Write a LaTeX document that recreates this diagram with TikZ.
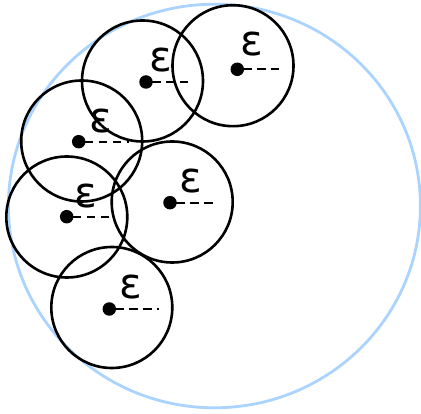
\documentclass[tikz,border=0pt]{standalone}
\usepackage{fontspec}
\newfontfamily\epsfont{DejaVu Sans}
\definecolor{paleblue}{RGB}{170,212,255}
\begin{document}
\begin{tikzpicture}[x=1pt,y=-1pt,
  ball/.style={circle,draw=black,line width=2.6pt,minimum size=121pt,inner sep=0pt},
  centre/.style={circle,fill=black,minimum size=13.5pt,inner sep=0pt},
  rad/.style={draw=black,line width=2.2pt,dash pattern=on 8.5pt off 5.5pt},
  eps/.style={font=\epsfont\fontsize{42}{42}\selectfont,inner sep=0pt}]
\useasboundingbox (0,0) rectangle (421,414);
\draw[paleblue,line width=2.8pt] (214.4,206) ellipse [x radius=206,y radius=201.8];
% circles
\node[ball] (b1) at (142.5,81) {};
\node[ball] (b2) at (233,65.7) {};
\node[ball] (b3) at (81.7,141) {};
\node[ball] (b4) at (66.8,217) {};
\node[ball] (b5) at (172.2,202) {};
\node[ball] (b6) at (111.8,307.5) {};
% centres
\node[centre] (d1) at (146,82) {};
\node[centre] (d2) at (237.3,69.3) {};
\node[centre] (d3) at (78.7,141.7) {};
\node[centre] (d4) at (66.7,216.7) {};
\node[centre] (d5) at (170,202.7) {};
\node[centre] (d6) at (109.3,309) {};
% radius ends
\coordinate (e1) at (188,82);
\coordinate (e2) at (279,69.3);
\coordinate (e3) at (128.5,141.7);
\coordinate (e4) at (112,216.7);
\coordinate (e5) at (217.5,202.7);
\coordinate (e6) at (158.5,309);
\foreach \i in {1,...,6}{\path[rad] (d\i.center) ++(6pt,0) -- (e\i);}
% labels
\node[eps] (l1) at (161,60) {ε};
\node[eps] (l2) at (252,44) {ε};
\node[eps] (l3) at (100.5,121) {ε};
\node[eps] (l4) at (86,196) {ε};
\node[eps] (l5) at (191,181) {ε};
\node[eps] (l6) at (131,287.5) {ε};
\end{tikzpicture}
\end{document}
